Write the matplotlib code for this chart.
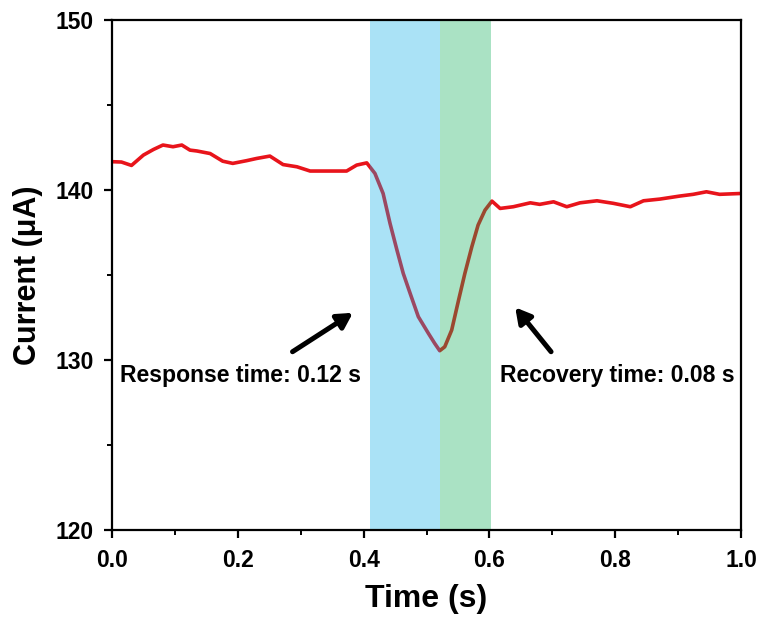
import matplotlib
matplotlib.use("Agg")
import matplotlib.pyplot as plt
from matplotlib.ticker import MultipleLocator

plt.rcParams['font.family'] = ['Liberation Sans', 'DejaVu Sans']
plt.rcParams['font.weight'] = 'bold'

# Current trace (time in s, current in uA)
time_s = [0.0, 0.015, 0.031, 0.050, 0.066, 0.081, 0.097, 0.111, 0.124, 0.135,
          0.156, 0.176, 0.192, 0.214, 0.230, 0.251, 0.272, 0.294, 0.315, 0.347,
          0.373, 0.389, 0.405, 0.418, 0.431, 0.442, 0.453, 0.463, 0.474, 0.487,
          0.503, 0.513, 0.521, 0.529, 0.540, 0.551, 0.561, 0.572, 0.582, 0.593,
          0.604, 0.617, 0.638, 0.665, 0.680, 0.702, 0.723, 0.744, 0.771, 0.797,
          0.824, 0.845, 0.871, 0.903, 0.924, 0.945, 0.966, 1.0]
current_ua = [141.67, 141.65, 141.45, 142.06, 142.39, 142.65, 142.55, 142.65, 142.35, 142.3,
              142.15, 141.7, 141.57, 141.73, 141.86, 142.0, 141.5, 141.37, 141.12, 141.12,
              141.12, 141.47, 141.6, 140.98, 139.8, 138.04, 136.47, 135.1, 133.92, 132.55,
              131.57, 130.98, 130.55, 130.78, 131.76, 133.53, 135.1, 136.66, 137.94, 138.82,
              139.35, 138.92, 139.02, 139.25, 139.16, 139.31, 139.02, 139.25, 139.37, 139.22,
              139.02, 139.37, 139.47, 139.65, 139.75, 139.9, 139.75, 139.8]

# Response and recovery windows (s)
response_window = [0.41, 0.521]
recovery_window = [0.521, 0.603]

x_ticks = [0.0, 0.2, 0.4, 0.6, 0.8, 1.0]
x_tick_labels = ["0.0", "0.2", "0.4", "0.6", "0.8", "1.0"]
y_ticks = [120, 130, 140, 150]
y_tick_labels = ["120", "130", "140", "150"]

fig = plt.figure(figsize=(7.66, 6.28), dpi=100)
ax = fig.add_axes([0.1462, 0.156, 0.8212, 0.812])

ax.plot(time_s, current_ua, color='#E8141B', lw=2.6, zorder=2)
ax.axvspan(*response_window, color='#0CACE8', alpha=0.35, lw=0, zorder=3)
ax.axvspan(*recovery_window, color='#0CAC56', alpha=0.35, lw=0, zorder=3)

ax.set_xlim(0, 1)
ax.set_ylim(120, 150)
ax.set_xticks(x_ticks)
ax.set_xticklabels(x_tick_labels)
ax.set_yticks(y_ticks)
ax.set_yticklabels(y_tick_labels)
ax.xaxis.set_minor_locator(MultipleLocator(0.1))
ax.yaxis.set_minor_locator(MultipleLocator(5))

for s in ax.spines.values():
    s.set_linewidth(1.6)
    s.set_zorder(5)
ax.tick_params(which='major', direction='out', length=6, width=1.6,
               labelsize=16.5)
ax.tick_params(axis='y', which='major', pad=7)
ax.tick_params(axis='x', which='major', pad=8)
ax.tick_params(which='minor', direction='out', length=3.5, width=1.4)
for lab in ax.get_xticklabels() + ax.get_yticklabels():
    lab.set_fontweight('bold')

ax.set_xlabel('Time (s)', fontsize=23, fontweight='bold', labelpad=8)
ax.set_ylabel('Current (μA)', fontsize=22, fontweight='bold', labelpad=9)

arrow_style = dict(arrowstyle='-|>,head_length=0.9,head_width=0.5',
                   color='black', lw=3.6, shrinkA=0, shrinkB=0)
ax.annotate('', xy=(0.383, 132.78), xytext=(0.287, 130.49),
            arrowprops=arrow_style, zorder=6)
ax.annotate('', xy=(0.641, 133.1), xytext=(0.698, 130.49),
            arrowprops=arrow_style, zorder=6)

ax.text(0.0127, 129.12, 'Response time: 0.12 s', fontsize=16.6,
        fontweight='bold', ha='left', va='center', zorder=6)
ax.text(0.617, 129.12, 'Recovery time: 0.08 s', fontsize=16.6,
        fontweight='bold', ha='left', va='center', zorder=6)

fig.savefig('out.png', dpi=100)
